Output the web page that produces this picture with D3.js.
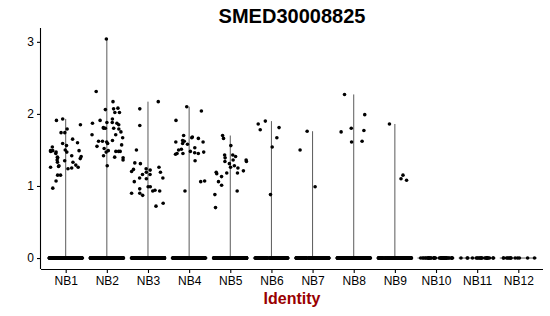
<!DOCTYPE html>
<html>
<head>
<meta charset="utf-8">
<script src="https://cdn.jsdelivr.net/npm/d3@7"></script>
<style>
  body { margin: 0; background: #fff; }
  svg { display: block; font-family: "Liberation Sans", Arial, Helvetica, sans-serif; }
  .axis path, .axis line { stroke: #000; stroke-width: 1.1; }
  .axis text { font-size: 12px; fill: #000; }
</style>
</head>
<body>
<svg id="chart" width="550" height="316"></svg>
<script>
(function() {
    const groups = ["NB1", "NB2", "NB3", "NB4", "NB5", "NB6", "NB7", "NB8", "NB9", "NB10", "NB11", "NB12"];
    // number of cells with zero expression in each identity
    const zeroCounts = [320, 320, 320, 320, 320, 160, 160, 160, 150, 45, 22, 13];

    // non-zero expression values
    const nb1 = [1.85, 1.91, 1.93, 1.65, 1.59, 1.79, 1.74, 1.74, 1.49, 1.48, 1.47, 1.54, 1.49, 1.47, 1.42,
                 1.39, 1.35, 1.33, 1.26, 1.24, 1.25, 1.26, 1.38, 1.28, 1.60, 1.56, 1.49, 1.41, 1.15, 1.15,
                 1.07, 0.97, 1.36, 1.40, 1.29, 1.27, 1.45, 1.50, 1.33];
    const nb2 = [3.04, 2.31, 2.17, 2.06, 2.02, 2.08, 2.07, 2.02, 1.85, 1.91, 1.88, 1.93, 1.88, 1.87, 1.87,
                 1.79, 1.80, 1.80, 1.81, 1.80, 1.71, 1.75, 1.71, 1.62, 1.61, 1.63, 1.57, 1.49, 1.48, 1.67,
                 1.62, 1.48, 1.55, 1.52, 1.59, 1.36, 1.40, 1.42, 1.48, 1.47, 1.28, 1.39];
    const nb3 = [2.17, 2.07, 1.84, 1.50, 1.31, 1.19, 1.23, 1.24, 1.26, 1.19, 1.10, 1.11, 1.16, 1.06, 0.99,
                 0.93, 0.96, 0.93, 0.90, 0.90, 0.87, 0.76, 0.72, 1.22, 1.32, 1.16, 1.11, 0.99, 0.94, 1.20];
    const nb4 = [2.10, 2.04, 1.91, 1.70, 1.61, 1.61, 1.59, 1.67, 1.62, 1.66, 1.68, 1.58, 1.53, 1.51, 1.46,
                 1.47, 1.48, 1.45, 1.45, 1.35, 1.06, 1.07, 0.93, 1.45, 1.50, 1.63, 1.44];
    const nb5 = [1.70, 1.66, 1.56, 1.43, 1.36, 1.43, 1.39, 1.34, 1.36, 1.34, 1.28, 1.26, 1.31, 1.25, 1.18,
                 1.19, 1.17, 1.18, 1.13, 1.06, 1.01, 0.93, 0.88, 0.70, 1.21, 1.41];
    const nb6 = [1.90, 1.81, 1.86, 1.78, 1.67, 1.54, 0.88];
    const nb7 = [1.76, 1.50, 0.99];
    const nb8 = [2.27, 1.99, 1.80, 1.77, 1.75, 1.62, 1.61];
    const nb9 = [1.86, 1.15, 1.08, 1.10];
    const nb10 = [], nb11 = [], nb12 = [];
    const nonZero = [nb1, nb2, nb3, nb4, nb5, nb6, nb7, nb8, nb9, nb10, nb11, nb12];

    const width = 550, height = 316;
    const margin = { top: 28, right: 7, bottom: 47, left: 41 };
    const svg = d3.select("#chart");

    // deterministic jitter (layout only, not data)
    function jit(i, k) {
        const s = Math.sin(i * 12.9898 + k * 78.233) * 43758.5453;
        return (s - Math.floor(s)) * 2 - 1;
    }

    const cells = [];
    groups.forEach((g, gi) => {
        for (let i = 0; i < zeroCounts[gi]; i++) cells.push({ group: g, value: 0, j: jit(i, gi + 1) });
        nonZero[gi].forEach((v, i) => cells.push({ group: g, value: v, j: jit(i + 500, gi + 31) }));
    });

    const maxVal = d3.max(cells, d => d.value);
    const pad = maxVal * 0.05;

    const x = d3.scalePoint()
        .domain(groups)
        .range([margin.left, width - margin.right])
        .padding(0.6);
    const step = x.step();

    const y = d3.scaleLinear()
        .domain([-pad, maxVal + pad])
        .range([height - margin.bottom, margin.top]);

    // violins: collapsed to a thin line plus the flat base at zero
    const gViolin = svg.append("g").attr("class", "violins");
    groups.forEach((g, gi) => {
        const top = d3.max(nonZero[gi]) || 0;
        if (top > 0) {
            gViolin.append("line")
                .attr("x1", x(g)).attr("x2", x(g))
                .attr("y1", y(0)).attr("y2", y(top))
                .attr("stroke", "#5a5a5a")
                .attr("stroke-width", 1);
        }
        gViolin.append("line")
            .attr("x1", x(g) - step * 0.45).attr("x2", x(g) + step * 0.45)
            .attr("y1", y(0)).attr("y2", y(0))
            .attr("stroke", "#333")
            .attr("stroke-width", 0.8);
    });

    svg.append("g").attr("class", "points")
        .selectAll("circle")
        .data(cells)
        .join("circle")
        .attr("cx", d => x(d.group) + d.j * step * 0.4)
        .attr("cy", d => y(d.value))
        .attr("r", 1.8)
        .attr("fill", "#000");

    svg.append("g")
        .attr("class", "axis")
        .attr("transform", `translate(0,${height - margin.bottom})`)
        .call(d3.axisBottom(x).tickSize(4).tickPadding(3).tickSizeOuter(0))
        .call(g => g.select(".domain").attr("d", `M${margin.left},0.5H${width - margin.right}`));

    svg.append("g")
        .attr("class", "axis")
        .attr("transform", `translate(${margin.left},0)`)
        .call(d3.axisLeft(y).tickValues([0, 1, 2, 3]).tickFormat(d3.format("d")).tickSize(4).tickPadding(3).tickSizeOuter(0))
        .call(g => g.select(".domain").attr("d", `M-0.5,${margin.top}V${height - margin.bottom}`));

    svg.append("text")
        .attr("x", (margin.left + width - margin.right) / 2)
        .attr("y", 23)
        .attr("text-anchor", "middle")
        .attr("font-size", "20px")
        .attr("font-weight", "bold")
        .text("SMED30008825");

    svg.append("text")
        .attr("x", (margin.left + width - margin.right) / 2)
        .attr("y", 304)
        .attr("text-anchor", "middle")
        .attr("font-size", "16px")
        .attr("font-weight", "bold")
        .attr("fill", "#990000")
        .text("Identity");
})();
</script>
</body>
</html>
